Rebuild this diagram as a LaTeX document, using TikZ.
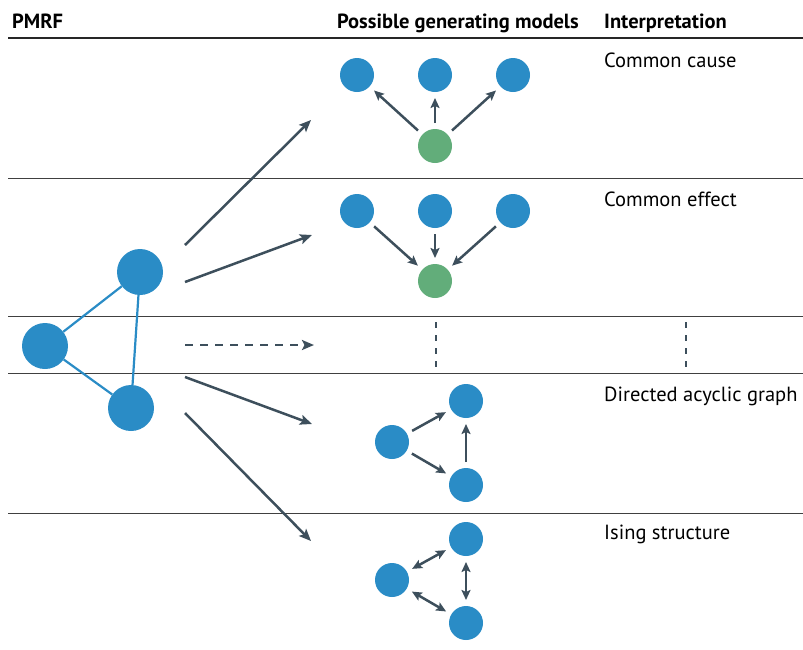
\documentclass[tikz,border=0pt]{standalone}
\usepackage{fontspec}
\setmainfont{PT Sans}
\usetikzlibrary{arrows.meta, positioning}

\definecolor{nodeblue}{HTML}{2A8CC6}
\definecolor{nodegreen}{HTML}{62AD7A}
\definecolor{arrowgrey}{HTML}{3D4F5C}

\begin{document}
\begin{tikzpicture}[x=1pt, y=-1pt,
            % Styles
            pnode/.style={circle, fill=nodeblue, minimum size=46pt, inner sep=0pt},
            bnode/.style={circle, fill=nodeblue, minimum size=34pt, inner sep=0pt, outer sep=6pt},
            gnode/.style={circle, fill=nodegreen, minimum size=34pt, inner sep=0pt, outer sep=6pt},
            edge/.style={draw=nodeblue, line width=2.2pt},
            line/.style={draw=arrowgrey, line width=2.5pt, -{Stealth[length=12pt, width=10pt, inset=2.5pt]}},
            dline/.style={draw=arrowgrey, line width=2.5pt, -{Stealth[length=10pt, width=9pt, inset=2pt]}},
            bline/.style={draw=arrowgrey, line width=2.5pt, {Stealth[length=10pt, width=9pt, inset=2pt]}-{Stealth[length=10pt, width=9pt, inset=2pt]}},
            dashedline/.style={line, dash pattern=on 8pt off 7pt},
            vdots/.style={draw=arrowgrey, line width=2.5pt, dash pattern=on 6pt off 7pt},
            rule/.style={draw=black!75, line width=0.8pt},
            head/.style={font=\fontsize{20.5}{24}\selectfont\bfseries, anchor=base west, inner sep=0pt},
            interp/.style={font=\fontsize{20.5}{24}\selectfont, anchor=base west, inner sep=0pt}
        ]
        \useasboundingbox (0,0) rectangle (803,649);

        % Header
        \node [head] (hpmrf) at (12,28) {PMRF};
        \node [head] (hmodels) at (337,28) {Possible generating models};
        \node [head] (hinterp) at (604,28) {Interpretation};

        % Rules
        \draw [rule, draw=black!85, line width=1.6pt] (8,38) -- (803,38);
        \draw [rule] (8,178) -- (803,178);
        \draw [rule] (8,316) -- (803,316);
        \draw [rule] (8,373) -- (803,373);
        \draw [rule] (8,513) -- (803,513);

        % PMRF
        \node [pnode] (pleft) at (45,346) {};
        \node [pnode] (ptop) at (140,272) {};
        \node [pnode] (pbottom) at (131,408) {};
        \path [edge] (pleft) -- (ptop);
        \path [edge] (pleft) -- (pbottom);
        \path [edge] (ptop) -- (pbottom);

        % Arrows to the models
        \coordinate (s1) at (185,245); \coordinate (e1) at (311,120);
        \coordinate (s2) at (185,282); \coordinate (e2) at (312,235);
        \coordinate (s3) at (185,345); \coordinate (e3) at (314,345);
        \coordinate (s4) at (185,377); \coordinate (e4) at (312,424);
        \coordinate (s5) at (185,413); \coordinate (e5) at (311,541);
        \path [line] (s1) -- (e1);
        \path [line] (s2) -- (e2);
        \path [dashedline] (s3) -- (e3);
        \path [line] (s4) -- (e4);
        \path [line] (s5) -- (e5);

        % Common cause
        \node [bnode] (cc1) at (357,75) {};
        \node [bnode] (cc2) at (435,75) {};
        \node [bnode] (cc3) at (513,75) {};
        \node [gnode] (ccg) at (435,146) {};
        \foreach \n in {cc1,cc2,cc3}
            \path [dline] (ccg) -- (\n);
        \node [interp] (icc) at (604,67) {Common cause};

        % Common effect
        \node [bnode] (ce1) at (357,211) {};
        \node [bnode] (ce2) at (435,211) {};
        \node [bnode] (ce3) at (513,211) {};
        \node [gnode] (ceg) at (435,281) {};
        \foreach \n in {ce1,ce2,ce3}
            \path [dline] (\n) -- (ceg);
        \node [interp] (ice) at (604,206) {Common effect};

        % Other models
        \coordinate (d1) at (436,322); \coordinate (d2) at (436,368);
        \coordinate (d3) at (686,322); \coordinate (d4) at (686,368);
        \path [vdots] (d1) -- (d2);
        \path [vdots] (d3) -- (d4);

        % Directed acyclic graph
        \node [bnode] (dleft) at (392,442) {};
        \node [bnode] (dtop) at (466,401) {};
        \node [bnode] (dbottom) at (466,485) {};
        \path [dline] (dleft) -- (dtop);
        \path [dline] (dleft) -- (dbottom);
        \path [dline] (dbottom) -- (dtop);
        \node [interp] (idag) at (604,401) {Directed acyclic graph};

        % Ising structure
        \node [bnode] (ileft) at (392,580) {};
        \node [bnode] (itop) at (466,539) {};
        \node [bnode] (ibottom) at (466,623) {};
        \path [bline] (ileft) -- (itop);
        \path [bline] (ileft) -- (ibottom);
        \path [bline] (itop) -- (ibottom);
        \node [interp] (iising) at (604,539) {Ising structure};

    \end{tikzpicture}
\end{document}
